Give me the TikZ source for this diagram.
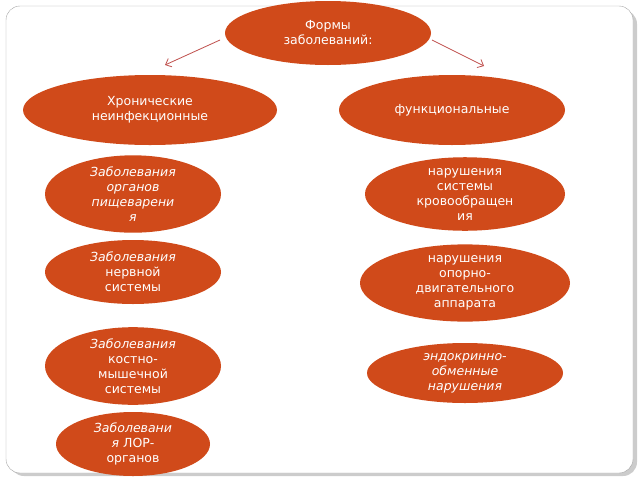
\documentclass[tikz,border=0pt]{standalone}
\usepackage{fontspec}
\setmainfont{DejaVu Sans}
\usetikzlibrary{shapes.geometric, arrows.meta}
\definecolor{rust}{HTML}{D04A1A}
\definecolor{arrowred}{HTML}{C0504D}
\tikzset{
  blob/.style={ellipse, fill=rust, text=white, inner sep=0pt, align=center,
    font=\fontsize{12.5}{15}\selectfont},
  link/.style={-{Straight Barb[length=5pt,width=9pt]}, draw=arrowred, line width=0.8pt}
}
\begin{document}
\begin{tikzpicture}[x=1pt,y=-1pt]
  \useasboundingbox (0,0) rectangle (640,480);
  \fill[gray!40, rounded corners=14pt] (10,10) rectangle (637,476);
  \draw[gray!70, fill=white, rounded corners=14pt] (6,6) rectangle (633,473);
  % top level
  \node[blob, minimum width=206pt, minimum height=64pt] (forms) at (328,33) {Формы\\заболеваний:};
  \node[blob, minimum width=254pt, minimum height=70pt] (chron) at (150,110) {Хронические\\неинфекционные};
  \node[blob, minimum width=226pt, minimum height=70pt] (func) at (452,110) {функциональные};
  \coordinate (lstart) at (220,40);
  \coordinate (lend) at (165,65);
  \coordinate (rstart) at (432,40);
  \coordinate (rend) at (484,66);
  \draw[link] (lstart) -- (lend);
  \draw[link] (rstart) -- (rend);
  % left column
  \node[blob, minimum width=176pt, minimum height=64pt] (digest) at (133,194) {\itshape Заболевания\\\itshape органов\\\itshape пищеварени\\\itshape я};
  \node[blob, minimum width=176pt, minimum height=64pt] (nerve) at (133,272) {\itshape Заболевания\\нервной\\системы};
  \node[blob, minimum width=176pt, minimum height=72pt] (bone) at (133,366) {\itshape Заболевания\\костно-\\мышечной\\системы};
  \node[blob, minimum width=154pt, minimum height=64pt] (ent) at (133,444) {\itshape Заболевани\\{\itshape я} ЛОР-\\органов};
  % right column
  \node[blob, minimum width=200pt, minimum height=60pt] (blood) at (465,194) {нарушения\\системы\\кровообращен\\ия};
  \node[blob, minimum width=210pt, minimum height=72pt] (motor) at (465,283) {нарушения\\опорно-\\двигательного\\аппарата};
  \node[blob, minimum width=196pt, minimum height=60pt] (endo) at (465,373) {\itshape эндокринно-\\\itshape обменные\\\itshape нарушения};
\end{tikzpicture}
\end{document}
